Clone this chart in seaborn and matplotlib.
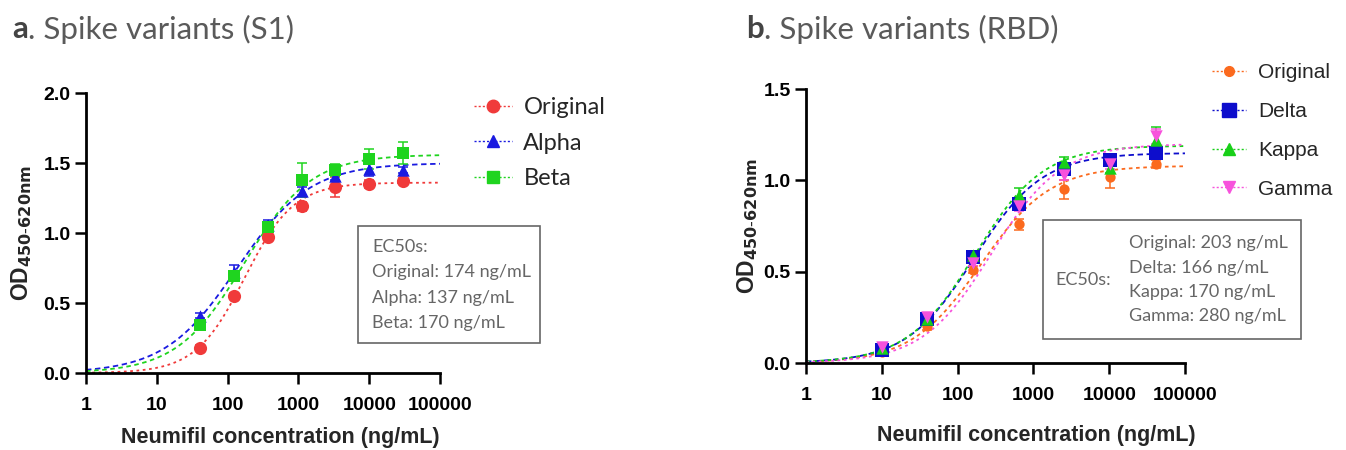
import numpy as np
import pandas as pd
import matplotlib
matplotlib.use('Agg')
import matplotlib.pyplot as plt
import seaborn as sns
from matplotlib.lines import Line2D
from matplotlib.patches import Rectangle

# Panel a: Spike variants (S1), 3-fold dilutions
s1_conc = [41.2, 123.5, 370.4, 1111, 3333, 10000, 30000]
s1_names = ['Original', 'Alpha', 'Beta']
s1_original = [0.18, 0.55, 0.97, 1.19, 1.33, 1.35, 1.37]
s1_original_err = [0.02, 0.02, 0.02, 0.03, 0.07, 0.03, 0.02]
s1_alpha = [0.41, 0.72, 1.06, 1.30, 1.41, 1.46, 1.45]
s1_alpha_err = [0.02, 0.05, 0.03, 0.03, 0.03, 0.05, 0.02]
s1_beta = [0.34, 0.69, 1.04, 1.38, 1.45, 1.53, 1.57]
s1_beta_err = [0.02, 0.03, 0.04, 0.12, 0.04, 0.07, 0.08]
# fitted 4PL parameters (EC50 from the figure text)
s1_ec50 = [174, 137, 170]
s1_top = [1.36, 1.50, 1.56]
s1_hill = [1.25, 0.85, 0.92]

# Panel b: Spike variants (RBD), 4-fold dilutions
rbd_conc = [10, 40, 160, 640, 2560, 10240, 40960]
rbd_names = ['Original', 'Delta', 'Kappa', 'Gamma']
rbd_original = [0.06, 0.20, 0.51, 0.76, 0.95, 1.02, 1.09]
rbd_original_err = [0.01, 0.02, 0.02, 0.03, 0.05, 0.06, 0.02]
rbd_delta = [0.07, 0.24, 0.58, 0.87, 1.06, 1.11, 1.15]
rbd_delta_err = [0.01, 0.02, 0.02, 0.03, 0.03, 0.03, 0.03]
rbd_kappa = [0.08, 0.24, 0.59, 0.92, 1.10, 1.07, 1.22]
rbd_kappa_err = [0.01, 0.02, 0.02, 0.04, 0.03, 0.03, 0.07]
rbd_gamma = [0.09, 0.25, 0.55, 0.86, 1.03, 1.09, 1.24]
rbd_gamma_err = [0.01, 0.02, 0.02, 0.03, 0.03, 0.03, 0.04]
rbd_ec50 = [203, 166, 170, 280]
rbd_top = [1.08, 1.15, 1.19, 1.20]
rbd_hill = [0.95, 0.97, 0.97, 0.95]

W, H = 1346, 450
sns.set_style('ticks')
plt.rcParams['font.family'] = ['Liberation Sans', 'DejaVu Sans']

fig = plt.figure(figsize=(W / 100, H / 100), dpi=100)


def fx(px):
    return px / W


def fy(py):
    return 1 - py / H


def four_pl(x, top, ec50, hill):
    return top / (1 + (ec50 / x) ** hill)


def draw_panel(ax, conc, names, values, errs, ec50s, tops, hills, colors, markers, sizes, dashes, ymax):
    x_fit = np.logspace(0, 5, 300)
    for i, name in enumerate(names):
        fit = pd.DataFrame({'x': x_fit, 'y': four_pl(x_fit, tops[i], ec50s[i], hills[i])})
        sns.lineplot(data=fit, x='x', y='y', ax=ax, color=colors[i], lw=1.3,
                     dashes=False, zorder=2).lines[-1].set_dashes(dashes[i])
        ax.errorbar(conc, values[i], yerr=errs[i], fmt='none', ecolor=colors[i],
                    elinewidth=1.1, capsize=3.5, capthick=1.1, zorder=3)
        pts = pd.DataFrame({'x': conc, 'y': values[i]})
        sns.scatterplot(data=pts, x='x', y='y', ax=ax, color=colors[i], marker=markers[i],
                        s=sizes[i], edgecolor=colors[i], linewidth=0, zorder=4)
    ax.set_xscale('log')
    ax.set_xlim(1, 100000)
    ax.set_ylim(0, ymax)
    ax.set_xticks([1, 10, 100, 1000, 10000, 100000])
    ax.set_xticklabels(['1', '10', '100', '1000', '10000', '100000'])
    ax.minorticks_off()
    ax.set_yticks(np.arange(0, ymax + 0.01, 0.5))
    ax.set_yticklabels([f'{v:.1f}' for v in np.arange(0, ymax + 0.01, 0.5)])
    for lab in ax.get_xticklabels() + ax.get_yticklabels():
        lab.set_fontweight('bold')
        lab.set_fontsize(14)
    ax.tick_params(axis='both', length=8, width=1.8, direction='out', colors='black')
    ax.tick_params(axis='x', pad=9)
    ax.tick_params(axis='y', pad=3)
    sns.despine(ax=ax)
    for s in ['left', 'bottom']:
        ax.spines[s].set_linewidth(2)
        ax.spines[s].set_color('black')
    ax.set_xlabel('Neumifil concentration (ng/mL)', fontsize=15.5, fontweight='bold', va='center')
    ax.set_ylabel(r'OD$_{\mathbf{450\text{-}620nm}}$', fontsize=16.5, fontweight='bold')
    ax.set_facecolor('none')


# ---- panel a ----
ax1 = fig.add_axes([fx(86), fy(373), fx(354), 280 / H])
s1_colors = ['#f03a3a', '#1a1ae0', '#1fd41f']
draw_panel(ax1, s1_conc, s1_names,
           [s1_original, s1_alpha, s1_beta],
           [s1_original_err, s1_alpha_err, s1_beta_err],
           s1_ec50, s1_top, s1_hill, s1_colors, ['o', '^', 's'], [90, 80, 85],
           [(1.5, 2), (3, 2), (2.5, 2)], 2.0)
ax1.xaxis.set_label_coords(0.55, (373 - 437) / 280)
ax1.yaxis.set_label_coords(-0.147, 0.5)

# ---- panel b ----
ax2 = fig.add_axes([fx(806), fy(363), fx(379), 274 / H])
rbd_colors = ['#fb6a1e', '#0d0dcc', '#18cf18', '#f752dc']
draw_panel(ax2, rbd_conc, rbd_names,
           [rbd_original, rbd_delta, rbd_kappa, rbd_gamma],
           [rbd_original_err, rbd_delta_err, rbd_kappa_err, rbd_gamma_err],
           rbd_ec50, rbd_top, rbd_hill, rbd_colors, ['o', 's', '^', 'v'], [55, 95, 80, 80],
           [(2, 2), (3, 2), (2, 2), (1.5, 2)], 1.5)
ax2.xaxis.set_label_coords(0.607, (363 - 435) / 274)
ax2.yaxis.set_label_coords(-0.122, 0.5)

# ---- legends ----
h1 = [Line2D([], [], color=c, marker=m, markersize=9, linestyle=(0, (1.5, 1.5)), lw=1)
      for c, m in zip(s1_colors, ['o', '^', 's'])]
fig.legend(h1, s1_names, loc='center left', bbox_to_anchor=(fx(462), fy(143)),
           frameon=False, prop={'family': 'Lato', 'size': 17}, handlelength=1.6,
           handletextpad=0.5, labelspacing=0.62, borderpad=0)
h2 = [Line2D([], [], color=c, marker=m, markersize=ms, linestyle=(0, (1.5, 1.5)), lw=1)
      for c, m, ms in zip(rbd_colors, ['o', 's', '^', 'v'], [7, 10, 9, 9])]
fig.legend(h2, rbd_names, loc='center left', bbox_to_anchor=(fx(1202), fy(131)),
           frameon=False, prop={'family': 'Liberation Sans', 'size': 15}, handlelength=1.6,
           handletextpad=0.6, labelspacing=0.95, borderpad=0)

# ---- EC50 boxes ----
box_kw = dict(transform=fig.transFigure, fill=False, edgecolor='#666666', lw=1.2)
fig.patches.append(Rectangle((fx(358), fy(343)), fx(540 - 358), (343 - 226) / H, **box_kw))
fig.patches.append(Rectangle((fx(1043), fy(339)), fx(1301 - 1043), (339 - 220) / H, **box_kw))

txt_kw = dict(family='Lato', size=13, color='#666666', va='center', ha='left')
s1_lines = ['EC50s:'] + [f'{n}: {e} ng/mL' for n, e in zip(s1_names, s1_ec50)]
for k, line in enumerate(s1_lines):
    fig.text(fx(372), fy(247 + 25.3 * k), line, **txt_kw)
fig.text(fx(1055), fy(280), 'EC50s:', **txt_kw)
for k, (n, e) in enumerate(zip(rbd_names, rbd_ec50)):
    fig.text(fx(1129), fy(243 + 24.5 * k), f'{n}: {e} ng/mL', **txt_kw)

# ---- panel titles ----
renderer = fig.canvas.get_renderer()
for px, letter, rest in [(12, 'a', '. Spike variants (S1)'), (746, 'b', '. Spike variants (RBD)')]:
    t = fig.text(fx(px), fy(29), letter, family='Lato', size=22.5, fontweight='bold',
                 color='#444444', va='center', ha='left')
    bb = t.get_window_extent(renderer)
    fig.text(bb.x1 / W, fy(29), rest, family='Lato', size=22.5, color='#5a5a5a',
             va='center', ha='left')

fig.savefig('out.png', dpi=100)
